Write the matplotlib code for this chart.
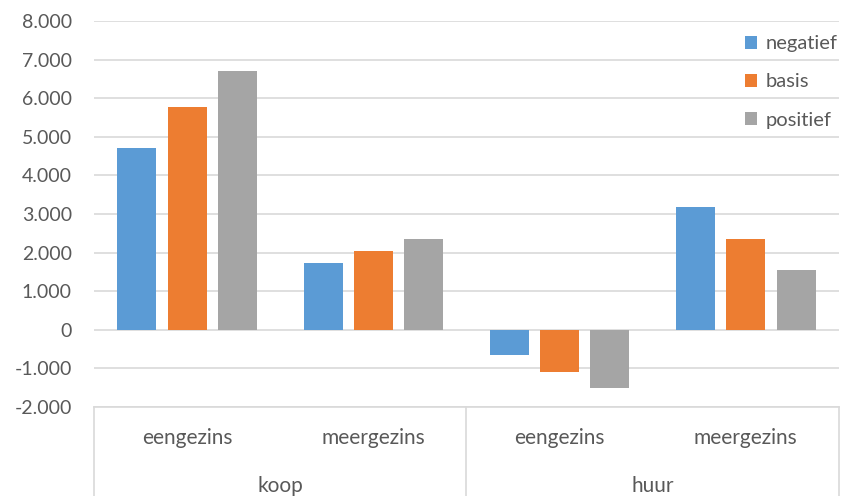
import matplotlib.pyplot as plt
import numpy as np
from matplotlib.ticker import FuncFormatter

plt.rcParams['font.family'] = ['Lato', 'DejaVu Sans']

# data
types = ['eengezins', 'meergezins', 'eengezins', 'meergezins']
groups = ['koop', 'huur']
series = ['negatief', 'basis', 'positief']
negatief = [4720, 1740, -660, 3180]
basis = [5760, 2040, -1100, 2350]
positief = [6710, 2350, -1520, 1540]
colors = ['#5b9bd5', '#ed7d31', '#a5a5a5']

fig = plt.figure(figsize=(8.44, 4.96), dpi=100)
ax = fig.add_axes([0.1114, 0.1794, 0.8826, 0.7783])

x = np.arange(len(types))
w = 0.21
off = 0.27
for i, (vals, name) in enumerate(zip([negatief, basis, positief], series)):
    ax.bar(x + (i - 1) * off, vals, w, color=colors[i], label=name, zorder=3)

ax.set_xlim(-0.5, 3.5)
ax.set_ylim(-2000, 8000)
ax.set_yticks(range(-2000, 8001, 1000))
ax.yaxis.set_major_formatter(FuncFormatter(lambda v, p: f'{int(v):,}'.replace(',', '.')))
ax.grid(axis='y', color='#d9d9d9', lw=1.2, zorder=0)
ax.tick_params(axis='y', length=0, pad=16, labelsize=14, labelcolor='#595959')
ax.set_xticks([])
for s in ax.spines.values():
    s.set_visible(False)

# category box below the plot
tr = ax.get_xaxis_transform()
ax.plot([-0.5, 3.5], [0, 0], color='#d9d9d9', lw=1.2, transform=tr, clip_on=False)
for xv in [-0.5, 1.5, 3.5]:
    ax.plot([xv, xv], [0, -0.25], color='#d9d9d9', lw=1.2, transform=tr, clip_on=False)
for xi, t in zip(x, types):
    ax.text(xi, -0.08, t, transform=tr, ha='center', va='center', fontsize=15, color='#595959')
for gi, g in enumerate(groups):
    ax.text(0.5 + 2 * gi, -0.205, g, transform=tr, ha='center', va='center', fontsize=15, color='#595959')

ax.legend(loc='upper right', bbox_to_anchor=(1.022, 1.01), frameon=False, fontsize=14.5,
          handlelength=0.6, handleheight=0.6, handletextpad=0.4, labelspacing=1.05,
          labelcolor='#595959')

fig.savefig('out.png', dpi=100)
